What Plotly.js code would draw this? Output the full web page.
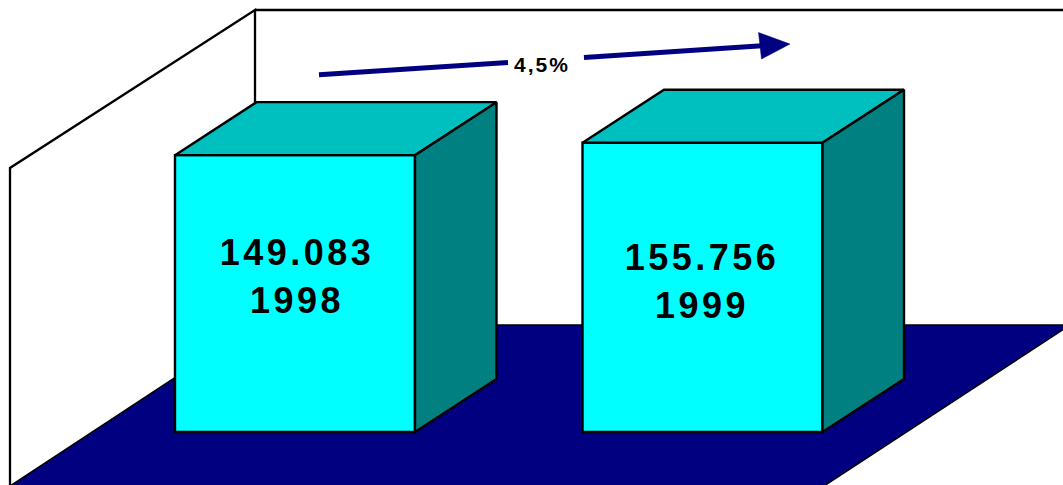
<!DOCTYPE html>
<html>
<head>
<meta charset="utf-8">
<script src="https://cdn.plot.ly/plotly-3.0.1.min.js"></script>
<style>html,body{margin:0;padding:0;background:#fff;overflow:hidden}#chart{width:1063px;height:485px}</style>
</head>
<body>
<div id="chart"></div>
<script>
// ---- data ----
const years = ["1998", "1999"];
const values = [149083, 155756];
const valueLabels = ["149.083", "155.756"];
const growthLabel = "4,5%";

// ---- scene scale (pixels of the picture) ----
const W = 1063, H = 485;
const baseY = 432, pxPerValue = 0.001857;
const firstCenter = 295, pitch = 407.5, barPx = 240;
const depthX = 81.5, depthY = 53;
const X = px => (px - firstCenter) / pitch;
const Y = py => (baseY - py) / pxPerValue;
const path = pts => "M" + pts.map(p => X(p[0]) + "," + Y(p[1])).join(" L");

const halfW = barPx / pitch / 2, dX = depthX / pitch, dV = depthY / pxPerValue;
const xIdx = years.map((_, i) => i);

const front = {
  type: "bar", x: xIdx, y: values, width: barPx / pitch,
  marker: {color: "#00FFFF", line: {color: "#000", width: 2.4}}, hoverinfo: "skip"
};
const poly = (xs, ys, color) => ({
  type: "scatter", mode: "lines", x: xs, y: ys, fill: "toself", fillcolor: color,
  line: {color: "#000", width: 2.4}, hoverinfo: "skip", cliponaxis: false
});
const tops = xIdx.map((c, i) => poly(
  [c - halfW, c + halfW, c + halfW + dX, c - halfW + dX, c - halfW],
  [values[i], values[i], values[i] + dV, values[i] + dV, values[i]], "#00BFBF"));
const sides = xIdx.map((c, i) => poly(
  [c + halfW, c + halfW + dX, c + halfW + dX, c + halfW, c + halfW],
  [0, dV, values[i] + dV, values[i], 0], "#008080"));

// growth arrow
const tail = [319, 74.8], tip = [790, 44];
const lineAt = px => Y(tail[1] + (tip[1] - tail[1]) * (px - tail[0]) / (tip[0] - tail[0]));
const shaft = {
  type: "scatter", mode: "lines",
  x: [X(319), X(508), null, X(584), X(762)],
  y: [lineAt(319), lineAt(508), null, lineAt(584), lineAt(762)],
  line: {color: "#000080", width: 5}, hoverinfo: "skip"
};
const head = {
  type: "scatter", mode: "lines", x: [X(758.5), X(790), X(761.5), X(758.5)], y: [Y(32.5), Y(44), Y(59), Y(32.5)],
  fill: "toself", fillcolor: "#000080", line: {color: "#000080", width: 0.5}, hoverinfo: "skip"
};

// text positions
const valueRowPx = [252, 257], yearRowPx = [300, 305];
const textCenterPx = [296.5, 702];
const textAnn = (px, py, text, size) => ({
  x: X(px), y: Y(py), xref: "x", yref: "y", text: text, showarrow: false,
  xanchor: "center", yanchor: "middle",
  font: {family: "Liberation Sans, Arial, sans-serif", size: size, color: "#000", weight: "bold"}
});
const annotations = [];
xIdx.forEach((c, i) => {
  annotations.push(textAnn(textCenterPx[i], valueRowPx[i], "<b>" + valueLabels[i] + "</b>", 36));
  annotations.push(textAnn(textCenterPx[i], yearRowPx[i], "<b>" + years[i] + "</b>", 36));
});
annotations.push(textAnn(542, 64, "<b>" + growthLabel + "</b>", 21));

// floor and walls
const shapes = [
  {type: "path", layer: "below", path: path([[10, 486], [255, 325], [1070, 325], [824, 486]]) + " Z",
   fillcolor: "#000080", line: {color: "#000", width: 1.5}},
  {type: "path", layer: "below", path: path([[10, 486], [10, 168], [255, 10], [255, 325]]),
   fillcolor: "rgba(0,0,0,0)", line: {color: "#000", width: 2.3}},
  {type: "path", layer: "below", path: path([[255, 10], [1070, 10]]),
   fillcolor: "rgba(0,0,0,0)", line: {color: "#000", width: 2.3}}
];

const axisOff = {visible: false, showgrid: false, zeroline: false, fixedrange: true};
Plotly.newPlot("chart", [front, ...tops, ...sides, shaft, head], {
  width: W, height: H, margin: {l: 0, r: 0, t: 0, b: 0},
  paper_bgcolor: "#fff", plot_bgcolor: "#fff", showlegend: false,
  xaxis: {...axisOff, range: [X(0), X(W)]},
  yaxis: {...axisOff, range: [Y(H), Y(0)]},
  shapes: shapes, annotations: annotations
}, {displayModeBar: false, staticPlot: true}).then(() => {
  document.querySelectorAll(".annotation-text").forEach(t => {
    t.style.letterSpacing = parseFloat(t.style.fontSize) > 25 ? "3.5px" : "2px";
  });
});
</script>
</body>
</html>
